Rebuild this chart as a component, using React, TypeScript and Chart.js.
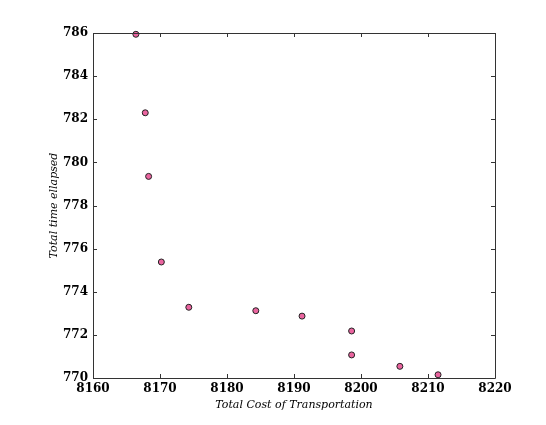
import React, { useEffect, useRef } from "react";
import { Chart, registerables } from "chart.js";

Chart.register(...registerables);

const costValues = [8166.4, 8167.8, 8168.3, 8170.2, 8174.3, 8184.3, 8191.2, 8198.6, 8198.6, 8205.8, 8211.5];
const timeValues = [785.94, 782.3, 779.35, 775.38, 773.28, 773.12, 772.87, 772.18, 771.07, 770.54, 770.15];
const xTitle = "Total Cost of Transportation";
const yTitle = "Total time ellapsed";
const xRange = [8160, 8220];
const yRange = [770, 786];

const tickFont = { family: "DejaVu Serif", size: 12, weight: "bold" as const };
const titleFont = { family: "DejaVu Serif", size: 11, style: "italic" as const };

const frameTicks = {
  id: "frameTicks",
  afterDraw(chart: any) {
    const { ctx, chartArea: a, scales } = chart;
    const x = scales.x;
    const y = scales.y;
    ctx.save();
    ctx.strokeStyle = "#333";
    ctx.lineWidth = 1;
    ctx.beginPath();
    ctx.rect(a.left + 0.5, a.top + 0.5, a.right - a.left, a.bottom - a.top);
    ctx.stroke();
    const L = 4;
    ctx.beginPath();
    for (const t of x.ticks) {
      const px = Math.round(x.getPixelForValue(t.value)) + 0.5;
      ctx.moveTo(px, a.bottom);
      ctx.lineTo(px, a.bottom - L);
      ctx.moveTo(px, a.top);
      ctx.lineTo(px, a.top + L);
    }
    for (const t of y.ticks) {
      const py = Math.round(y.getPixelForValue(t.value)) + 0.5;
      ctx.moveTo(a.left, py);
      ctx.lineTo(a.left + L, py);
      ctx.moveTo(a.right, py);
      ctx.lineTo(a.right - L, py);
    }
    ctx.stroke();
    ctx.restore();
  },
};

export default function App() {
  const ref = useRef<HTMLCanvasElement>(null);
  useEffect(() => {
    document.body.style.margin = "0";
    const chart = new Chart(ref.current!, {
      type: "scatter",
      data: {
        datasets: [
          {
            data: costValues.map((c, i) => ({ x: c, y: timeValues[i] })),
            backgroundColor: "#ea649f",
            borderColor: "#222",
            borderWidth: 1,
            pointRadius: 3,
            pointHoverRadius: 3,
          },
        ],
      },
      options: {
        responsive: false,
        animation: false,
        clip: false as any,
        layout: { padding: { top: 33, right: 51, left: 0, bottom: 0 } },
        plugins: { legend: { display: false }, tooltip: { enabled: false } },
        scales: {
          x: {
            type: "linear",
            min: xRange[0],
            max: xRange[1],
            afterFit: (s: any) => {
              s.height = 47;
            },
            grid: { display: false, drawTicks: false },
            border: { display: false },
            ticks: {
              stepSize: 10,
              padding: 4,
              color: "#000",
              font: tickFont,
              maxRotation: 0,
              callback: (v: any) => String(v),
            },
            title: {
              display: true,
              text: xTitle,
              color: "#000",
              font: titleFont,
              padding: { top: 0, bottom: 13 },
            },
          },
          y: {
            type: "linear",
            min: yRange[0],
            max: yRange[1],
            afterFit: (s: any) => {
              s.width = 93;
            },
            grid: { display: false, drawTicks: false },
            border: { display: false },
            ticks: {
              stepSize: 2,
              padding: 5,
              color: "#000",
              font: tickFont,
              callback: (v: any) => String(v),
            },
            title: {
              display: true,
              text: yTitle,
              color: "#000",
              font: titleFont,
              padding: { top: 48, bottom: 0 },
            },
          },
        },
      },
      plugins: [frameTicks],
    });
    return () => chart.destroy();
  }, []);
  return (
    <div style={{ width: 546, height: 425, background: "#fff" }}>
      <canvas ref={ref} width={546} height={425} />
    </div>
  );
}
